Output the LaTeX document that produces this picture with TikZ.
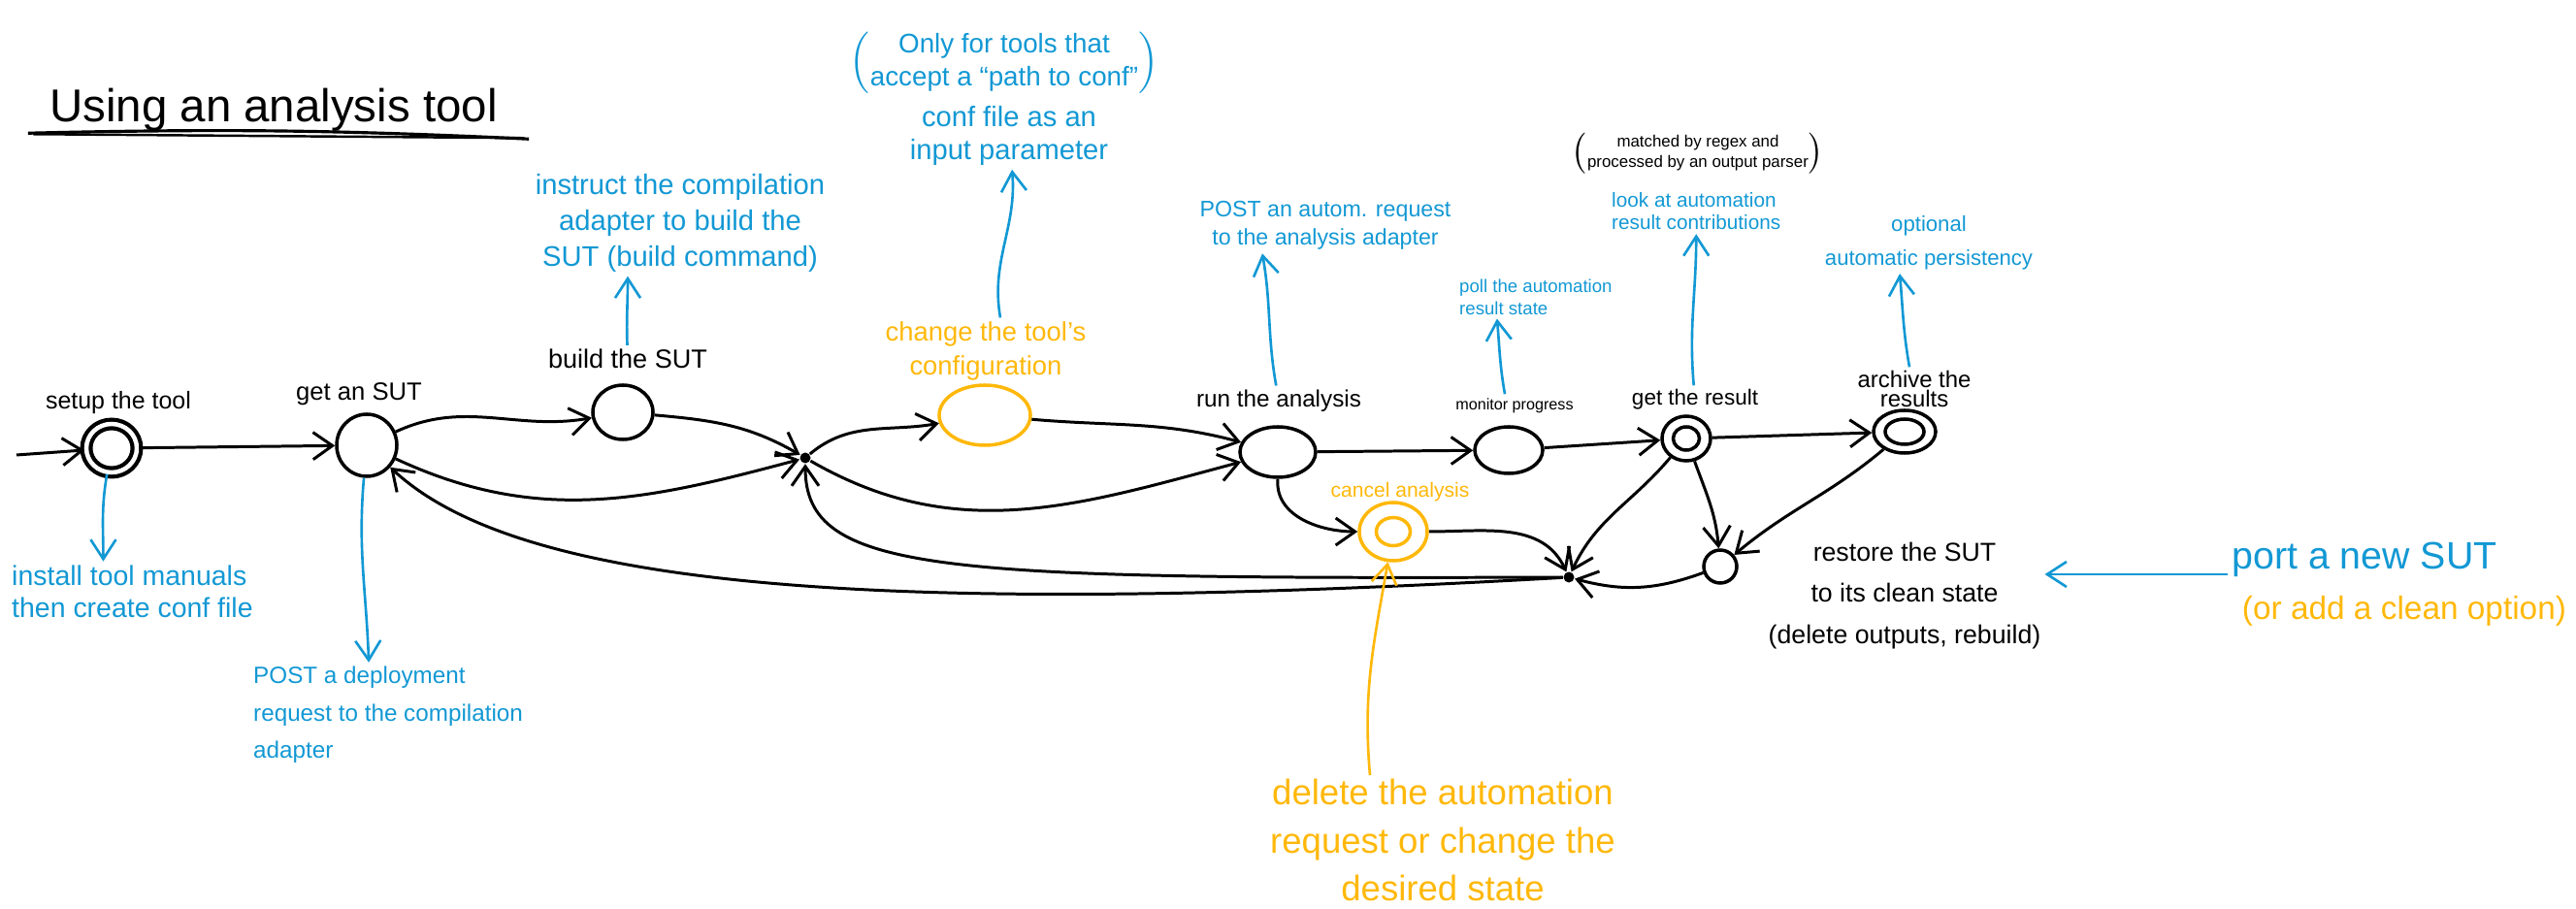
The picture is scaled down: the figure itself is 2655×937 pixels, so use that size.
\documentclass[tikz,border=0pt]{standalone}
\usepackage{fontspec}
\setmainfont{Liberation Sans}
\usepackage{tikz}
\usetikzlibrary{shapes.geometric, arrows.meta, positioning}
\definecolor{noteblue}{RGB}{18, 152, 212}
\definecolor{notegold}{RGB}{255, 184, 10}
\newcommand{\fsz}[2]{\fontsize{#1}{#2}\selectfont}
\tikzstyle{state} = [ellipse, draw, line width=1pt, inner sep=0pt]
\tikzstyle{junction} = [circle, fill, inner sep=0pt, minimum size=1.1mm]
\tikzstyle{lab} = [align=center, inner sep=1pt]
\tikzstyle{note} = [align=center, inner sep=1pt, text=noteblue]
\tikzstyle{warn} = [align=center, inner sep=1pt, text=notegold]
\tikzstyle{arrow} = [line width=0.85pt, -{Straight Barb[length=2mm, width=2.8mm]}]
\tikzstyle{notearrow} = [line width=0.75pt, noteblue, -{Straight Barb[length=2mm, width=2.6mm]}]
\tikzset{ring/.style n args={3}{path picture={\draw[#3, line width=1pt] (path picture bounding box.center) ellipse (#1 and #2);}}}

\begin{document}
\begin{tikzpicture}[x=0.1mm, y=0.1mm]
    \useasboundingbox (0,0) rectangle (2655,937);

    % Title
    \node[font=\fsz{13.5}{16}] (title) at (282,824) {Using an analysis tool};
    \draw[line width=0.9pt] ([shift={(-1mm,-1.2mm)}]title.base west) to[bend left=2] ([shift={(2mm,-1.8mm)}]title.base east);
    \draw[line width=0.7pt] ([shift={(-0.5mm,-1.3mm)}]title.base west) -- ([shift={(1.5mm,-1.7mm)}]title.base east);

    % States
    \node[state, double, double distance=0.45mm, line width=1.2pt, minimum width=5.2mm, minimum height=5mm] (setup) at (115,475) {};
    \node[state, minimum width=6.2mm, minimum height=6.4mm] (get) at (378,478) {};
    \node[state, minimum width=6.2mm, minimum height=5.6mm] (build) at (642,512) {};
    \node[junction] (j1) at (830,465) {};
    \node[state, draw=notegold, minimum width=9.4mm, minimum height=6.2mm] (conf) at (1015,509) {};
    \node[state, minimum width=7.8mm, minimum height=5.2mm] (run) at (1317,471) {};
    \node[state, minimum width=7mm, minimum height=4.8mm] (mon) at (1555,473) {};
    \node[state, minimum width=5mm, minimum height=4.6mm, ring={1.35mm}{1.2mm}{black}] (res) at (1738,485) {};
    \node[state, minimum width=6.4mm, minimum height=4.4mm, ring={2mm}{1.3mm}{black}] (arch) at (1963,492) {};
    \node[state, draw=notegold, minimum width=7mm, minimum height=6mm, ring={1.75mm}{1.45mm}{notegold}] (cancel) at (1436,389) {};
    \node[junction] (j2) at (1617,342) {};
    \node[state, minimum size=3.4mm] (restore) at (1773,353) {};

    % State labels
    \node[lab, font=\fsz{7.1}{9}] (setuplab) at (122,522) {setup the tool};
    \node[lab, font=\fsz{7.3}{9}] (getlab) at (370,531) {get an SUT};
    \node[lab, font=\fsz{7.7}{9}] (buildlab) at (647,567) {build the SUT};
    \node[warn, font=\fsz{7.8}{10}] (conflab) at (1016,575) {change the tool's\\configuration};
    \node[lab, font=\fsz{6.9}{9}] (runlab) at (1318,524) {run the analysis};
    \node[lab, font=\fsz{4.6}{6}] (monlab) at (1561,519) {monitor progress};
    \node[lab, font=\fsz{6.4}{8}] (reslab) at (1747,525) {get the result};
    \node[lab, font=\fsz{6.8}{5.5}] (archlab) at (1973,536) {archive the\\results};
    \node[warn, font=\fsz{6}{8}] (cancellab) at (1443,430) {cancel analysis};
    \node[lab, font=\fsz{7.6}{12}] (restorelab) at (1963,323) {restore the SUT\\to its clean state\\(delete outputs, rebuild)};

    % Notes
    \node[note, align=left, anchor=west, font=\fsz{8.1}{9.5}] (nsetup) at (8,327) {install tool manuals\\then create conf file};
    \node[note, align=left, anchor=west, font=\fsz{6.9}{11}] (nget) at (257,200) {POST a deployment\\request to the compilation\\adapter};
    \node[note, font=\fsz{8.3}{10.5}] (nbuild) at (701,707) {instruct the compilation\\adapter to build the\\SUT (build command)};
    \node[note, font=\fsz{7.9}{9.6}] (nconfa) at (1035,872) {$\left(\begin{tabular}{@{}c@{}}Only for tools that\\accept a ``path to conf''\end{tabular}\right)$};
    \node[note, font=\fsz{8.3}{9.7}] (nconf) at (1040,797) {conf file as an\\input parameter};
    \node[note, font=\fsz{6.6}{8.3}] (nrun) at (1366,705) {POST an autom. request\\to the analysis adapter};
    \node[note, align=left, anchor=west, font=\fsz{5.3}{6.5}] (nmon) at (1500,631) {poll the automation\\result state};
    \node[lab, font=\fsz{4.8}{6}] (nresa) at (1750,779) {$\left(\begin{tabular}{@{}c@{}}matched by regex and\\processed by an output parser\end{tabular}\right)$};
    \node[note, align=left, anchor=west, font=\fsz{5.9}{6.5}] (nres) at (1657,719) {look at automation\\result contributions};
    \node[note, font=\fsz{6.3}{10}] (narch) at (1988,687) {optional\\automatic persistency};
    \node[note, font=\fsz{11.2}{13}] (nport) at (2437,360) {port a new SUT};
    \node[warn, font=\fsz{9.5}{12}] (nclean) at (2478,307) {(or add a clean option)};
    \node[warn, font=\fsz{10.4}{14}] (ncancel) at (1487,71) {delete the automation\\request or change the\\desired state};

    % Transitions
    \coordinate (init) at (17,468);
    \draw[arrow] (init) -- (setup);
    \draw[arrow] (setup) -- (get);
    \draw[arrow] (get) to[out=25, in=190] (build);
    \draw[arrow] (build) to[out=-5, in=150] (j1);
    \draw[arrow] (get) to[out=-25, in=195] (j1);
    \draw[arrow] (j1) to[out=40, in=190] (conf);
    \draw[arrow] (conf) to[out=-5, in=165] (run);
    \draw[arrow] (j1) to[out=-30, in=195] (run);
    \draw[arrow] (run) -- (mon);
    \draw[arrow] (mon) -- (res);
    \draw[arrow] (res) -- (arch);
    \draw[arrow] (run.south) to[out=-95, in=180] (cancel);
    \draw[arrow] (cancel) to[out=0, in=115] (j2);
    \draw[arrow] (res) to[out=-130, in=65] (j2);
    \draw[arrow] (res) to[out=-70, in=95] (restore);
    \draw[arrow] (arch) to[out=-140, in=40] (restore);
    \draw[arrow] (restore) to[out=200, in=-15] (j2);
    \draw[arrow] (j2) .. controls +(-650,-2) and +(0,-120) .. (j1);
    \draw[arrow] (j2) .. controls +(-700,-40) and +(160,-150) .. (get);

    % Annotation arrows
    \draw[notearrow] (setup) to[out=-100, in=90] ([xshift=-3mm]nsetup.north);
    \draw[notearrow] (get) to[out=-95, in=92] ([xshift=-2mm]nget.north);
    \draw[notearrow] (buildlab) to[out=92, in=-90] ([xshift=-5.4mm]nbuild.south);
    \draw[notearrow] ([xshift=1.5mm]conflab.north) to[out=100, in=-85] (nconf);
    \draw[notearrow] (runlab) to[out=100, in=-80] ([xshift=-6.5mm]nrun.south);
    \draw[notearrow] ([xshift=-1mm]monlab.north) to[out=100, in=-85] ([xshift=-4mm]nmon.south);
    \draw[notearrow] (reslab) to[out=95, in=-90] (nres);
    \draw[notearrow] ([xshift=-0.5mm]archlab.north) to[out=100, in=-85] ([xshift=-3mm]narch.south);
    \draw[notearrow] ([yshift=-1.5mm]nport.west) -- ([yshift=-1.5mm]nport.west -| restorelab.east);
    \draw[notearrow, notegold] ([xshift=-7.5mm]ncancel.north) to[out=95, in=-100] (cancel);
\end{tikzpicture}
\end{document}
